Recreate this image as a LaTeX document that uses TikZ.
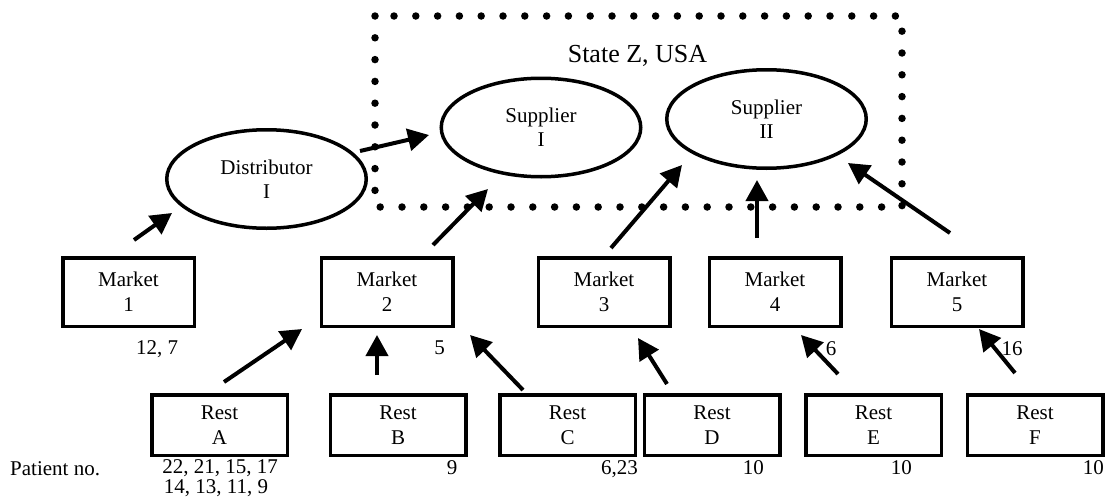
\documentclass[tikz,border=0pt]{standalone}
\usepackage{fontspec}
\setmainfont{Liberation Serif}
\usetikzlibrary{shapes.geometric,arrows.meta}
\begin{document}
\begin{tikzpicture}[x=1pt,y=-1pt,
  box/.style={draw,line width=3.5pt,minimum width=131.5pt,minimum height=68.5pt,inner sep=0pt,align=center,font=\fontsize{21}{25}\selectfont},
  restbox/.style={box,minimum width=135.5pt,minimum height=60.5pt},
  oval/.style={draw,ellipse,line width=3.5pt,minimum width=199.5pt,minimum height=98.5pt,inner sep=0pt,align=center,font=\fontsize{21}{24}\selectfont},
  arr/.style={line width=4pt,-{Triangle[length=21pt,width=22pt]}},
  lbl/.style={inner sep=0pt,anchor=base,font=\fontsize{21}{24}\selectfont},
  region/.style={line width=7.5pt,line cap=round,dash pattern=on 0pt off 21.8pt}]
\useasboundingbox (0,0) rectangle (1106,498);
% region
\draw[region] (375,16) rectangle (902,207);
\node[lbl,font=\fontsize{26}{30}\selectfont] (state) at (637.5,62) {State Z, USA};
% ellipses
\node[oval] (dist) at (266.5,179) {Distributor\\I};
\node[oval] (sup1) at (541,127.5) {Supplier\\I};
\node[oval] (sup2) at (766.5,119) {Supplier\\II};
% markets
\node[box] (m1) at (128.5,292) {Market\\1};
\node[box] (m2) at (387,292) {Market\\2};
\node[box] (m3) at (604,292) {Market\\3};
\node[box] (m4) at (775,292) {Market\\4};
\node[box] (m5) at (957,292) {Market\\5};
% rests
\node[restbox] (ra) at (219.5,425) {Rest\\A};
\node[restbox] (rb) at (398,425) {Rest\\B};
\node[restbox] (rc) at (567.5,425) {Rest\\C};
\node[restbox] (rd) at (712,425) {Rest\\D};
\node[restbox] (re) at (873.5,425) {Rest\\E};
\node[restbox] (rf) at (1035,425) {Rest\\F};
% labels
\node[lbl] (l127) at (157,354) {12, 7};
\node[lbl] (l5) at (439.5,354) {5};
\node[lbl] (l6) at (831,355) {6};
\node[lbl] (l16) at (1012,355) {16};
\node[lbl,anchor=base west] (pat) at (10,475) {Patient no.};
\node[lbl] (na1) at (220,473) {22, 21, 15, 17};
\node[lbl] (na2) at (216,493) {14, 13, 11, 9};
\node[lbl] (nb) at (452,474) {9};
\node[lbl,anchor=base east] (nc) at (638,474) {6,23};
\node[lbl,anchor=base east] (nd) at (764,474) {10};
\node[lbl,anchor=base east] (ne) at (912,474) {10};
\node[lbl,anchor=base east] (nf) at (1104,474) {10};
% arrow end points
\coordinate (t1) at (134,240);  \coordinate (h1) at (172,213);
\coordinate (t2) at (360,151);  \coordinate (h2) at (429,135);
\coordinate (t3) at (433,245);  \coordinate (h3) at (488,189);
\coordinate (t4) at (611,248);  \coordinate (h4) at (682,165);
\coordinate (t5) at (757,238);  \coordinate (h5) at (757,180);
\coordinate (t6) at (950,233);  \coordinate (h6) at (848,163);
\coordinate (t7) at (224,382);  \coordinate (h7) at (302,329);
\coordinate (t8) at (377,375);  \coordinate (h8) at (377,335);
\coordinate (t9) at (523,390);  \coordinate (h9) at (470,335);
\coordinate (t10) at (667,384); \coordinate (h10) at (638,338);
\coordinate (t11) at (838,374); \coordinate (h11) at (801,335);
\coordinate (t12) at (1015,373); \coordinate (h12) at (979,329);
\foreach \i in {1,...,12} {\draw[arr] (t\i) -- (h\i);}
\end{tikzpicture}
\end{document}
